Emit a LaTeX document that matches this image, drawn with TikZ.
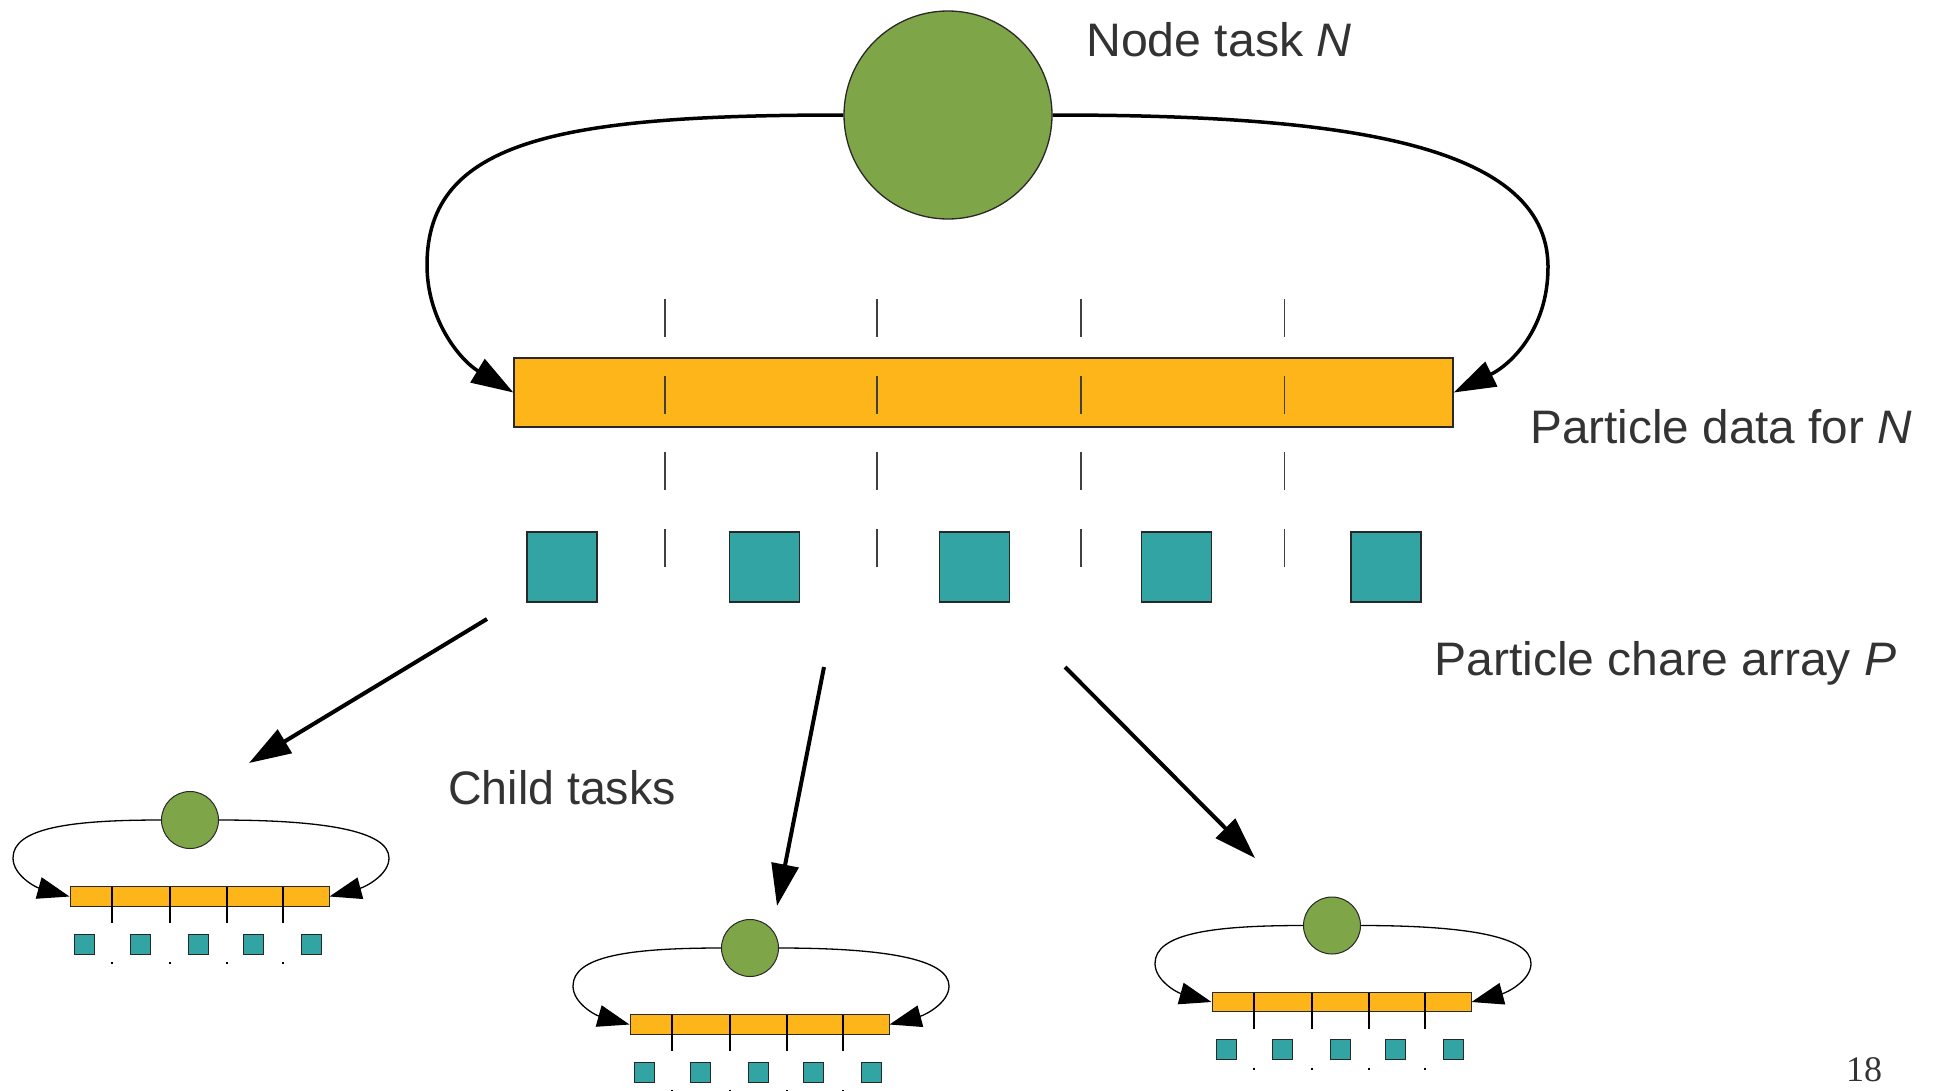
\documentclass[tikz,border=0pt]{standalone}
\usepackage{fontspec}
\usepackage{graphicx}
\setmainfont{Liberation Sans}
\newfontfamily\pagenumfont{Liberation Serif}
\usetikzlibrary{arrows.meta}
\definecolor{taskgreen}{RGB}{126,166,72}
\definecolor{dataorange}{RGB}{253,181,26}
\definecolor{chareteal}{RGB}{51,164,164}
\definecolor{textgray}{RGB}{51,51,51}
\definecolor{edgegray}{RGB}{40,40,40}
\tikzset{
  taskcirc/.style={circle, draw=edgegray, fill=taskgreen, inner sep=0pt},
  databar/.style={rectangle, draw=edgegray, fill=dataorange, inner sep=0pt},
  charebox/.style={rectangle, draw=edgegray, fill=chareteal, inner sep=0pt},
  smallarc/.style={line width=1.3pt, -{Triangle[length=32pt,width=22pt]}},
  childtask/.pic={
    \node[databar, minimum width=259pt, minimum height=19.3pt, line width=1pt] (-bar) at (9.5,76.5) {};
    \foreach \t in {-78,-20,37,93} \draw[line width=1.2pt, black] (\t,67) -- (\t,103) (\t,142) -- (\t,144);
    \foreach \s/\xx in {1/-106,2/-50,3/8,4/63.5,5/121} \node[charebox, minimum size=20pt, line width=1pt] (-p\s) at (\xx,124) {};
    \node[taskcirc, minimum size=57pt, line width=1pt] (-n) at (0,0) {};
    \coordinate (-lk) at (-177,38);
    \coordinate (-rk) at (199,38);
    \draw[smallarc] (-n.west) .. controls (-120,0) and (-177,8) .. (-lk) .. controls (-177,55) and (-155,67) .. (-bar.west);
    \draw[smallarc] (-n.east) .. controls (130,0) and (199,10) .. (-rk) .. controls (199,55) and (175,67) .. (-bar.east);
  }
}
\begin{document}
\begin{tikzpicture}[x=1pt,y=-1pt,
  lbl/.style={anchor=base west, inner sep=0pt, text=textgray, font=\fontsize{47}{55}\selectfont},
  bigarc/.style={line width=3.5pt, -{Triangle[length=42pt,width=27pt]}},
  bigarrow/.style={line width=4pt, -{Triangle[length=42pt,width=27pt]}},
  tickline/.style={draw=black!75, line width=1.2pt},
  ]
\fill[white] (0,0) rectangle (1942,1090);
\useasboundingbox (0,0) rectangle (1942,1090);

% main node task and its particle data
\node[databar, minimum width=939pt, minimum height=69pt, line width=1.3pt] (bar) at (983.5,392.5) {};
\foreach \s/\xx in {1/562,2/764.5,3/974.5,4/1176.5,5/1386}
  \node[charebox, minimum size=70pt, line width=1.3pt] (p\s) at (\xx,567) {};
\foreach \t in {665,877,1081,1284.5}
  \draw[tickline, dash pattern=on 38pt off 38.67pt] (\t,299) -- (\t,567);
\node[taskcirc, minimum size=208pt, line width=1.3pt] (N) at (948,115) {};

\coordinate (lk) at (427,265);
\coordinate (rk) at (1548,267);
\draw[bigarc] (N.west) .. controls (560,115) and (427,140) .. (lk) .. controls (427,320) and (460,360) .. (bar.west);
\draw[bigarc] (N.east) .. controls (1330,115) and (1548,140) .. (rk) .. controls (1548,330) and (1510,365) .. (bar.east);

% arrows to child tasks
\coordinate (a1s) at (487,619); \coordinate (a1e) at (249,763);
\coordinate (a2s) at (824,667); \coordinate (a2e) at (777,906);
\coordinate (a3s) at (1065,667); \coordinate (a3e) at (1255,858);
\draw[bigarrow] (a1s) -- (a1e);
\draw[bigarrow] (a2s) -- (a2e);
\draw[bigarrow] (a3s) -- (a3e);

% child tasks
\pic (c1) at (190,820) {childtask};
\pic (c2) at (750,948) {childtask};
\pic (c3) at (1332,925.5) {childtask};

% labels
\node[lbl] (tN) at (1086,56) {\scalebox{1.027}[1]{Node task \textit{N}}};
\node[lbl] (tD) at (1530,443) {\scalebox{1.015}[1]{Particle data for \textit{N}}};
\node[lbl] (tP) at (1434,675) {\scalebox{1.023}[1]{Particle chare array \textit{P}}};
\node[lbl] (tC) at (448,804) {\scalebox{0.99}[1]{Child tasks}};
\node[anchor=base west, inner sep=0pt, text=textgray, font=\pagenumfont\fontsize{36}{40}\selectfont] (pg) at (1846,1081) {18};
\end{tikzpicture}
\end{document}
